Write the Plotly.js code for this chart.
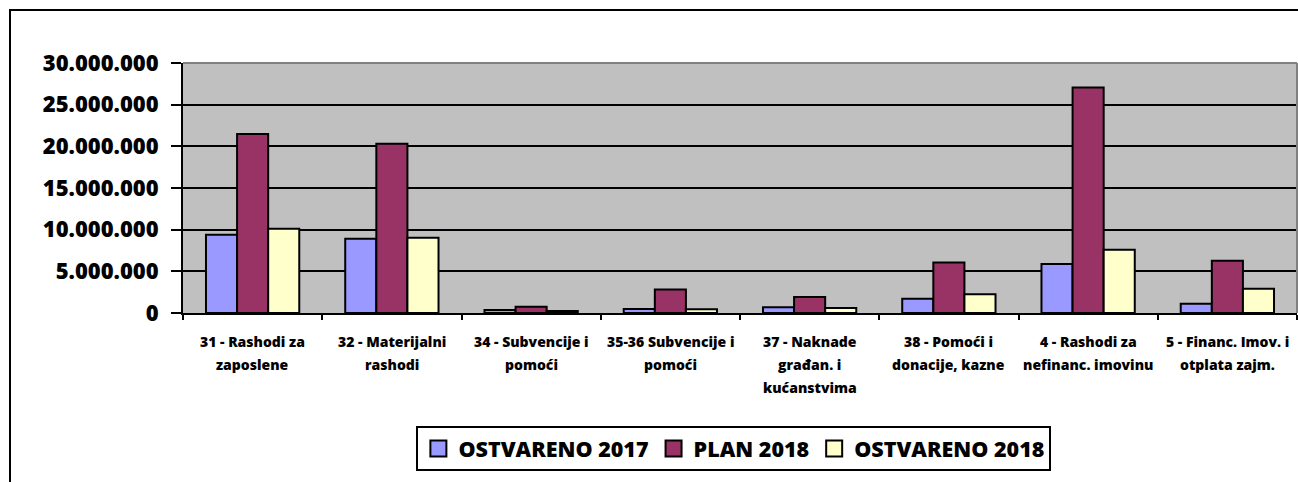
<!DOCTYPE html>
<html>
<head>
<meta charset="utf-8">
<script src="https://cdn.plot.ly/plotly-3.0.1.min.js"></script>
<style>html,body{margin:0;padding:0;background:#fff;}#chart{width:1298px;height:482px;}</style>
</head>
<body>
<div id="chart"></div>
<script>
// Category labels (each split into its display lines)
const categoryLines = [
  ["31 - Rashodi za", "zaposlene"],
  ["32 - Materijalni", "rashodi"],
  ["34 - Subvencije i", "pomoći"],
  ["35-36 Subvencije i", "pomoći"],
  ["37 - Naknade", "građan. i", "kućanstvima"],
  ["38 - Pomoći i", "donacije, kazne"],
  ["4 - Rashodi za", "nefinanc. imovinu"],
  ["5 - Financ. Imov. i", "otplata zajm."]
];
const categories = categoryLines.map(l => l.join(" "));

// Series
const seriesNames = ["OSTVARENO 2017", "PLAN 2018", "OSTVARENO 2018"];
const ostvareno2017 = [9400000, 8920000, 350000, 480000, 680000, 1720000, 5880000, 1120000];
const plan2018      = [21480000, 20320000, 760000, 2830000, 1920000, 6070000, 27070000, 6280000];
const ostvareno2018 = [10120000, 9040000, 250000, 450000, 600000, 2240000, 7600000, 2920000];

// Y axis ticks
const yTicks = [0, 5000000, 10000000, 15000000, 20000000, 25000000, 30000000];

const colors = ["#9999FF", "#993366", "#FFFFCC"];
const seriesValues = [ostvareno2017, plan2018, ostvareno2018];
const FONT = "'Open Sans', sans-serif";

const traces = seriesValues.map((vals, i) => ({
  type: "bar",
  name: seriesNames[i],
  x: categories,
  y: vals,
  marker: {color: colors[i], line: {color: "#000", width: 2}},
  showlegend: false,
  hoverinfo: "skip"
}));
// legend entries with larger square swatches
seriesNames.forEach((nm, i) => {
  traces.push({
    type: "scatter", mode: "markers", name: nm,
    x: [null], y: [null],
    marker: {symbol: "square", size: 16, color: colors[i], line: {color: "#000", width: 2}},
    showlegend: true, hoverinfo: "skip"
  });
});

const annotations = [];
categoryLines.forEach((lines, ci) => {
  lines.forEach((txt, li) => {
    annotations.push({
      x: categories[ci], xref: "x",
      y: 0, yref: "paper",
      yanchor: "middle", xanchor: "center",
      yshift: -28 - 23 * li,
      text: txt,
      showarrow: false,
      font: {family: FONT, size: 14, color: "#000", weight: 800}
    });
  });
});

const layout = {
  width: 1298, height: 482,
  margin: {l: 183, r: 1, t: 63, b: 169},
  paper_bgcolor: "#fff",
  plot_bgcolor: "#C0C0C0",
  separators: ",.",
  barmode: "group",
  bargap: 0.33,
  bargroupgap: 0,
  showlegend: true,
  legend: {
    orientation: "h",
    x: 0.2095, xanchor: "left",
    y: -0.452, yanchor: "top",
    bgcolor: "#fff",
    bordercolor: "#000",
    borderwidth: 2,
    font: {family: FONT, size: 21.5, color: "#000", weight: 800},
    itemwidth: 30,
    traceorder: "normal"
  },
  xaxis: {
    type: "category",
    showticklabels: false,
    ticks: "outside",
    tickson: "boundaries",
    ticklen: 5,
    tickwidth: 2,
    tickcolor: "#000",
    showline: true,
    linecolor: "#000",
    linewidth: 2,
    showgrid: false,
    fixedrange: true
  },
  yaxis: {
    range: [0, 30000000],
    tickvals: yTicks,
    tickformat: ",.0f",
    ticks: "outside",
    ticklen: 10,
    tickwidth: 2,
    tickcolor: "#000",
    ticklabelstandoff: 8,
    showline: true,
    linecolor: "#000",
    linewidth: 2,
    showgrid: true,
    gridcolor: "#000",
    gridwidth: 2,
    zeroline: false,
    tickfont: {family: FONT, size: 22, color: "#000", weight: 800},
    fixedrange: true
  },
  annotations: annotations,
  shapes: [
    {type: "line", xref: "paper", yref: "paper", x0: 0, x1: 1, y0: 1, y1: 1,
     line: {color: "#808080", width: 2}},
    {type: "line", xref: "paper", yref: "paper", x0: 1, x1: 1, y0: 0, y1: 1,
     line: {color: "#808080", width: 2}},
    {type: "rect", xref: "paper", yref: "paper",
     x0: (10 - 183) / 1114, x1: 1.2, y0: -1, y1: 1 + (63 - 10) / 250,
     line: {color: "#000", width: 2}, fillcolor: "rgba(0,0,0,0)"}
  ]
};

Plotly.newPlot("chart", traces, layout, {displayModeBar: false, staticPlot: true});
</script>
</body>
</html>
